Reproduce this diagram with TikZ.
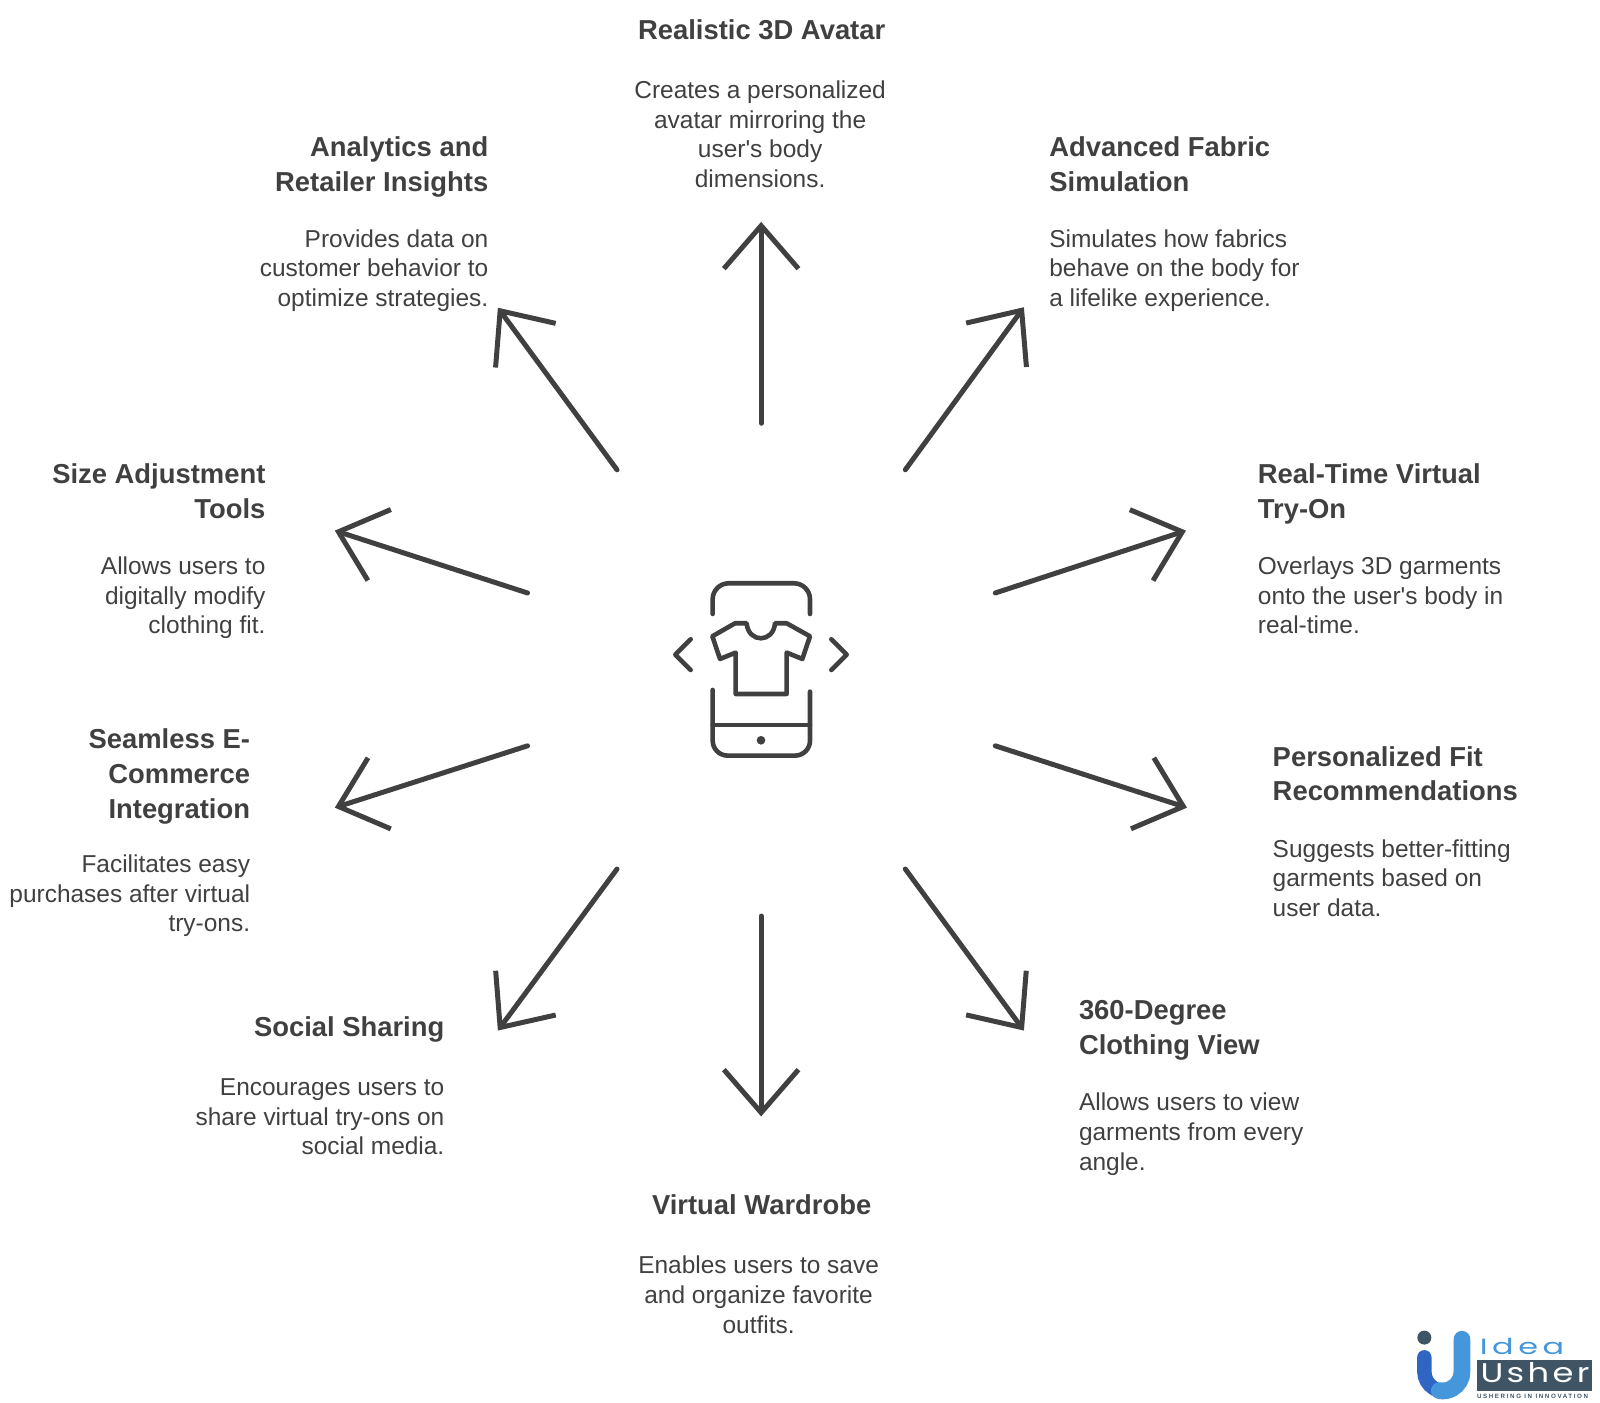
\documentclass[tikz,border=0pt]{standalone}
\usepackage{fontspec}
\setmainfont{Liberation Sans}[Ligatures=TeXOff]
\usetikzlibrary{arrows.meta}
\newfontfamily\logofont{Poppins}
\definecolor{ink}{HTML}{404040}
\definecolor{logodark}{HTML}{3F5566}
\definecolor{logoblue}{HTML}{2F66C4}
\definecolor{logolight}{HTML}{4596DA}
\newcommand{\tstrut}{\rule{0pt}{1.1em}}
\tikzset{
  ttl/.style={inner sep=0pt,text=ink,font=\fontsize{13.7}{17.4}\selectfont\bfseries},
  bdy/.style={inner sep=0pt,text=ink,font=\fontsize{12.23}{14.83}\selectfont},
  ttlL/.style={ttl,anchor=north west,align=left},
  ttlR/.style={ttl,anchor=north east,align=right},
  ttlC/.style={ttl,anchor=north,align=center},
  bdyL/.style={bdy,anchor=north west,align=left},
  bdyR/.style={bdy,anchor=north east,align=right},
  bdyC/.style={bdy,anchor=north,align=center},
  spoke/.style={draw=ink,line width=2.5pt,line cap=round,line join=round,
    -{Straight Barb[length=21.5pt,width=37.3pt,line width=2.5pt]}},
  ico/.style={draw=ink,line width=2.3pt,line cap=round,line join=round}
}
\begin{document}
\begin{tikzpicture}[x=0.5112pt,y=-0.5112pt]
\useasboundingbox (0,0) rectangle (1565,1371.4);
% titles and descriptions
\node[ttlC] (t1) at (745,8.5) {\tstrut Realistic 3D Avatar};
\node[bdyC] (b1) at (743.5,69.7) {\tstrut Creates a personalized\\avatar mirroring the\\user's body\\dimensions.};
\node[ttlL] (t2) at (1026,123.5) {\tstrut Advanced Fabric\\Simulation};
\node[bdyL] (b2) at (1026,215.2) {\tstrut Simulates how fabrics\\behave on the body for\\a lifelike experience.};
\node[ttlL] (t3) at (1230,443.5) {\tstrut Real-Time Virtual\\Try-On};
\node[bdyL] (b3) at (1230,535.2) {\tstrut Overlays 3D garments\\onto the user's body in\\real-time.};
\node[ttlL] (t4) at (1244.5,719.5) {\tstrut Personalized Fit\\Recommendations};
\node[bdyL] (b4) at (1244.5,811.7) {\tstrut Suggests better-fitting\\garments based on\\user data.};
\node[ttlL] (t5) at (1055,967.5) {\tstrut 360-Degree\\Clothing View};
\node[bdyL] (b5) at (1055,1059.7) {\tstrut Allows users to view\\garments from every\\angle.};
\node[ttlC] (t6) at (745,1158.5) {\tstrut Virtual Wardrobe};
\node[bdyC] (b6) at (742,1219.2) {\tstrut Enables users to save\\and organize favorite\\outfits.};
\node[ttlR] (t7) at (435,983.5) {\tstrut Social Sharing};
\node[bdyR] (b7) at (435,1044.7) {\tstrut Encourages users to\\share virtual try-ons on\\social media.};
\node[ttlR] (t8) at (245,702.5) {\tstrut Seamless E-\\Commerce\\Integration};
\node[bdyR] (b8) at (245,826.7) {\tstrut Facilitates easy\\purchases after virtual\\try-ons.};
\node[ttlR] (t9) at (260,443.5) {\tstrut Size Adjustment\\Tools};
\node[bdyR] (b9) at (260,535.2) {\tstrut Allows users to\\digitally modify\\clothing fit.};
\node[ttlR] (t10) at (478,123.5) {\tstrut Analytics and\\Retailer Insights};
\node[bdyR] (b10) at (478,215.2) {\tstrut Provides data on\\customer behavior to\\optimize strategies.};
% spokes
\coordinate (s1) at (744.5,414);  \coordinate (e1) at (744.5,217);
\coordinate (s2) at (885.5,459.5);  \coordinate (e2) at (1001.5,300.5);
\coordinate (s3) at (973.5,580);  \coordinate (e3) at (1160,519);
\coordinate (s4) at (973.5,729.5);  \coordinate (e4) at (1161,790);
\coordinate (s5) at (885.5,850);  \coordinate (e5) at (1001.5,1008);
\coordinate (s6) at (744.5,896);  \coordinate (e6) at (744.5,1092);
\coordinate (s7) at (603.5,850);  \coordinate (e7) at (487,1008);
\coordinate (s8) at (516,729.5);  \coordinate (e8) at (327.5,790);
\coordinate (s9) at (516,580);  \coordinate (e9) at (327.5,519);
\coordinate (s10) at (603.5,459.5); \coordinate (e10) at (487,301);
\foreach \i in {1,...,10} \draw[spoke] (s\i) -- (e\i);
% centre icon
\begin{scope}[shift={(626,547.7)},x=0.16667pt,y=-0.16667pt]
\draw[ico] (218,162) -- (218,118) arc[start angle=180,end angle=270,radius=48] -- (462,70) arc[start angle=270,end angle=360,radius=48] -- (510,162);
\draw[ico] (218,390) -- (218,542) arc[start angle=180,end angle=90,radius=45] -- (465,587) arc[start angle=90,end angle=0,radius=45] -- (510,395);
\draw[ico] (218,495) -- (510,495);
\fill[ink] (363,541) circle[radius=13];
\draw[ico] (152,238) -- (106,284) -- (152,330);
\draw[ico] (574,238) -- (620,284) -- (574,330);
\draw[ico] (217,229) -- (285,190) -- (320,190) .. controls (325,250) and (400,250) .. (405,190) -- (440,190) -- (510,229) -- (487,297) -- (440,278) -- (440,402) -- (287,402) -- (287,278) -- (240,297) -- cycle;
\end{scope}
% logo
\begin{scope}[shift={(1349.8,1271.5)},x=0.16667pt,y=-0.16667pt]
\fill[logodark] (133,113) circle[radius=21];
\draw[logoblue,line width=7.2pt,line cap=round] (133,172) -- (133,215) arc[start angle=180,end angle=75,radius=58];
\draw[logolight,line width=8.4pt,line cap=round] (246,118) -- (246,215) arc[start angle=0,end angle=100,radius=58];
\fill[logodark] (292,180) rectangle (635,272);
\node[inner sep=0pt,anchor=base west,text=logolight,xscale=1.45] (lgidea) at (298,165) {\logofont\fontsize{11}{11}\selectfont\addfontfeature{LetterSpace=14}Idea};
\node[inner sep=0pt,anchor=base west,text=white,xscale=1.25] (lgusher) at (300,247) {\logofont\fontsize{13.5}{13.5}\selectfont\addfontfeature{LetterSpace=10}Usher};
\node[inner sep=0pt,anchor=base west,text=logodark] (lgtag) at (290,296) {\fontsize{3.1}{4}\selectfont\bfseries\addfontfeature{LetterSpace=26}USHERING IN INNOVATION};
\end{scope}
\end{tikzpicture}
\end{document}
